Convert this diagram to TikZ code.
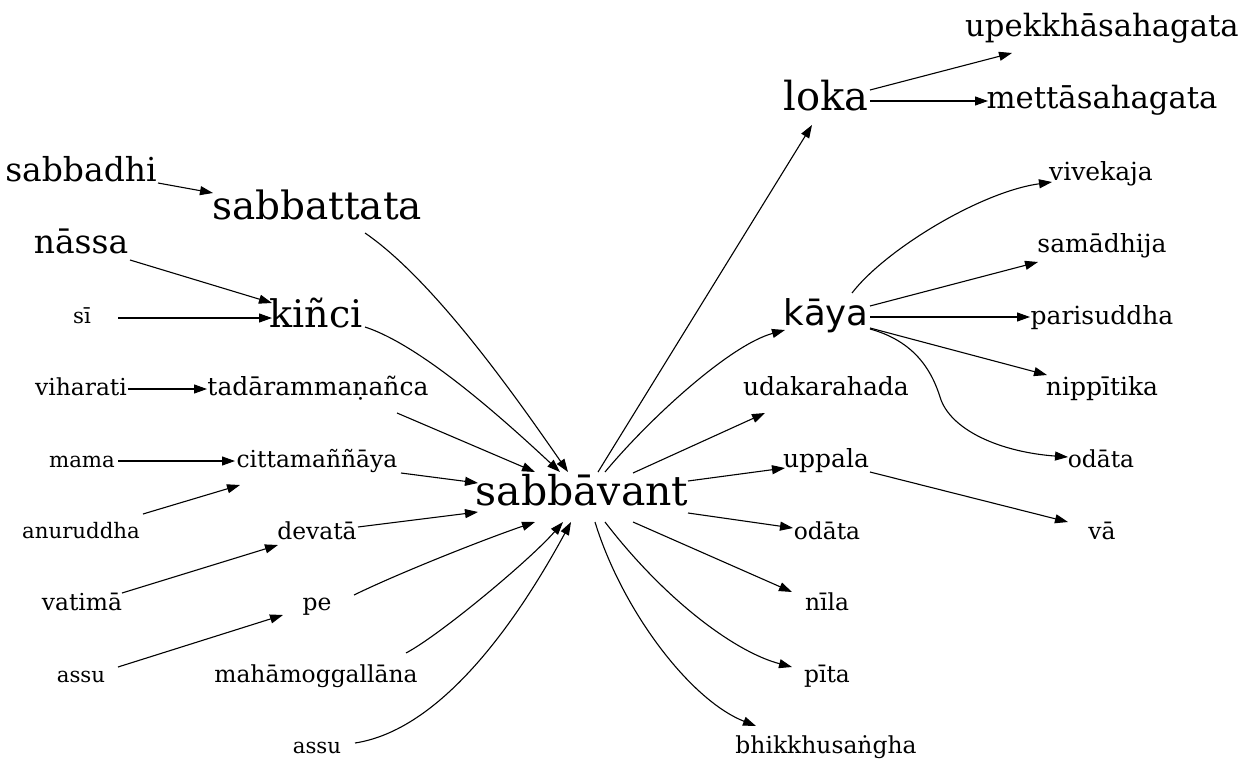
\documentclass[tikz,border=0pt]{standalone}
\usepackage{fontspec}
\setmainfont{DejaVu Serif}
\newfontfamily\dvsans{DejaVu Sans}
\usetikzlibrary{arrows.meta}
\tikzset{
  txt/.style={anchor=base, inner sep=0pt},
  fs/.style={font=\fontsize{#1}{#1}\selectfont},
  lg/.style={txt, fs=40},
  ml/.style={txt, fs=33},
  mu/.style={txt, fs=30.7},
  mb/.style={txt, fs=25},
  md/.style={txt, fs=23.4},
  sm/.style={txt, fs=21.3},
  arr/.style={-{Triangle[length=13pt,width=9pt]}, line width=1.1pt, line join=round}
}
\begin{document}
\begin{tikzpicture}[x=1pt,y=-1pt]
\fill[white] (0,0) rectangle (1245,779);
\useasboundingbox (0,0) rectangle (1245,779);
% left column
\node[ml] (sabbadhi) at (81,181) {sabbadhi};
\node[ml] (nassa) at (81,253) {nāssa};
\node[sm] (si) at (82,323) {sī};
\node[md] (viharati) at (81,395) {viharati};
\node[sm] (mama) at (82,467) {mama};
\node[sm] (anuruddha) at (81,538) {anuruddha};
\node[md] (vatima) at (82,610) {vatimā};
\node[sm] (assuA) at (81,682) {assu};
% second column
\node[lg, fs=39] (sabbattata) at (317,219) {sabbattata};
\node[lg, fs=38] (kinci) at (316,327) {kiñci};
\node[mb] (tada) at (318,395) {tadārammaṇañca};
\node[md] (citta) at (317,467) {cittamaññāya};
\node[md] (devata) at (317,539) {devatā};
\node[md] (pe) at (317,610) {pe};
\node[md] (maha) at (316,682) {mahāmoggallāna};
\node[sm] (assuB) at (317,753) {assu};
% centre
\node[lg, fs=41] (sabbavant) at (582,505) {sabbāvant};
% fourth column
\node[lg] (loka) at (826,110) {loka};
\node[txt, font=\fontsize{35.5}{36}\selectfont\dvsans] (kaya) at (826,325) {kāya};
\node[mb] (udaka) at (826,395) {udakarahada};
\node[mb] (uppala) at (826,467) {uppala};
\node[md] (odataB) at (827,539) {odāta};
\node[md] (nila) at (827,610) {nīla};
\node[md] (pita) at (827,682) {pīta};
\node[md] (bhikkhu) at (826,753) {bhikkhusaṅgha};
% fifth column
\node[mu] (upekkha) at (1102,36) {upekkhāsahagata};
\node[mu] (metta) at (1102,108) {mettāsahagata};
\node[mb] (vivekaja) at (1101,180) {vivekaja};
\node[mb] (samadhija) at (1102,252) {samādhija};
\node[mb] (parisuddha) at (1102,324) {parisuddha};
\node[mb] (nippitika) at (1102,395) {nippītika};
\node[md] (odataA) at (1101,467) {odāta};
\node[md] (va) at (1102,539) {vā};
% edges, left
\draw[arr] ([shift={(77,2)}]sabbadhi.base) -- ([shift={(-104,-26)}]sabbattata.base);
\draw[arr] ([shift={(48,14)}]sabbattata.base) .. controls (435,281) and (518,400) .. ([shift={(-14,-33)}]sabbavant.base);
\draw[arr] ([shift={(49,7)}]nassa.base) -- ([shift={(-44,-24)}]kinci.base);
\draw[arr] ([shift={(36,-5)}]si.base) -- ([shift={(-44,-9)}]kinci.base);
\draw[arr] ([shift={(49,0)}]kinci.base) .. controls (420,345) and (500,416) .. ([shift={(-22,-33)}]sabbavant.base);
\draw[arr] ([shift={(47,-6)}]viharati.base) -- ([shift={(-111,-6)}]tada.base);
\draw[arr] ([shift={(79,18)}]tada.base) -- ([shift={(-47,-33)}]sabbavant.base);
\draw[arr] ([shift={(36,-6)}]mama.base) -- ([shift={(-82,-6)}]citta.base);
\draw[arr] ([shift={(62,-24)}]anuruddha.base) -- ([shift={(-77,18)}]citta.base);
\draw[arr] ([shift={(84,6)}]citta.base) -- ([shift={(-104,-22)}]sabbavant.base);
\draw[arr] ([shift={(41,-12)}]devata.base) -- ([shift={(-104,7)}]sabbavant.base);
\draw[arr] ([shift={(40,-17)}]vatima.base) -- ([shift={(-39,6)}]devata.base);
\draw[arr] ([shift={(37,-15)}]pe.base) .. controls (399,573) and (485,539) .. ([shift={(-47,17)}]sabbavant.base);
\draw[arr] ([shift={(37,-15)}]assuA.base) -- ([shift={(-34,5)}]pe.base);
\draw[arr] ([shift={(90,-29)}]maha.base) .. controls (440,635) and (530,560) .. ([shift={(-19,17)}]sabbavant.base);
\draw[arr] ([shift={(38,-10)}]assuB.base) .. controls (440,730) and (515,625) .. ([shift={(-11,17)}]sabbavant.base);
% edges, right
\draw[arr] ([shift={(16,-33)}]sabbavant.base) -- ([shift={(-14,15)}]loka.base);
\draw[arr] ([shift={(23,-33)}]sabbavant.base) .. controls (650,418) and (730,345) .. ([shift={(-41,5)}]kaya.base);
\draw[arr] ([shift={(51,-32)}]sabbavant.base) -- ([shift={(-61,18)}]udaka.base);
\draw[arr] ([shift={(106,-24)}]sabbavant.base) -- ([shift={(-41,1)}]uppala.base);
\draw[arr] ([shift={(106,8)}]sabbavant.base) -- ([shift={(-34,-11)}]odataB.base);
\draw[arr] ([shift={(51,17)}]sabbavant.base) -- ([shift={(-35,-18)}]nila.base);
\draw[arr] ([shift={(23,17)}]sabbavant.base) .. controls (665,600) and (735,652) .. ([shift={(-35,-15)}]pita.base);
\draw[arr] ([shift={(13,17)}]sabbavant.base) .. controls (622,610) and (690,700) .. ([shift={(-70,-27)}]bhikkhu.base);
\draw[arr] ([shift={(44,-20)}]loka.base) -- ([shift={(-90,17)}]upekkha.base);
\draw[arr] ([shift={(44,-9)}]loka.base) -- ([shift={(-114,-7)}]metta.base);
\draw[arr] ([shift={(26,-32)}]kaya.base) .. controls (885,250) and (980,192) .. ([shift={(-49,2)}]vivekaja.base);
\draw[arr] ([shift={(44,-19)}]kaya.base) -- ([shift={(-64,10)}]samadhija.base);
\draw[arr] ([shift={(44,-8)}]kaya.base) -- ([shift={(-72,-7)}]parisuddha.base);
\draw[arr] ([shift={(44,3)}]kaya.base) -- ([shift={(-55,-20)}]nippitika.base);
\draw[arr] ([shift={(44,4)}]kaya.base) .. controls (910,340) and (930,365) .. (940,397) .. controls (950,430) and (1000,452) .. ([shift={(-33,-10)}]odataA.base);
\draw[arr] ([shift={(44,5)}]uppala.base) -- ([shift={(-34,-17)}]va.base);
\end{tikzpicture}
\end{document}
